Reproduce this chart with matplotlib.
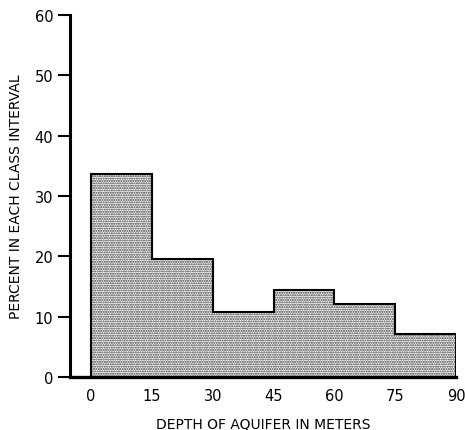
import numpy as np
import matplotlib.pyplot as plt

# Class intervals (depth in meters) and percent in each.
bin_edges = [0, 15, 30, 45, 60, 75, 90]
percents = [33.6, 19.5, 10.8, 14.5, 12.1, 7.2]
x_ticks = [0, 15, 30, 45, 60, 75, 90]
x_tick_labels = ['0', '15', '30', '45', '60', '75', '90']
y_ticks = [0, 10, 20, 30, 40, 50, 60]

plt.rcParams['font.family'] = ['DejaVu Sans']
plt.rcParams['hatch.linewidth'] = 1.0
plt.rcParams['hatch.color'] = '#333333'

fig = plt.figure(figsize=(4.65, 4.31), dpi=100)
ax = fig.add_axes([70 / 465, 1 - 378 / 431, (456 - 70) / 465, (378 - 16) / 431])

# stippled fill, then the step outline (no lines between classes)
ax.stairs(percents, bin_edges, baseline=0, fill=True, facecolor='white',
          edgecolor='#333333', hatch='.......', linewidth=0, zorder=2)
ax.stairs(percents, bin_edges, baseline=0, fill=False, color='black',
          linewidth=1.5, zorder=3)

ax.set_xlim(-5.2, 90)
ax.set_ylim(0, 60)
ax.set_xticks(x_ticks)
ax.set_xticklabels(x_tick_labels)
ax.set_yticks(y_ticks)

for s in ['top', 'right']:
    ax.spines[s].set_visible(False)
ax.spines['left'].set_linewidth(2.2)
ax.spines['bottom'].set_linewidth(2.4)
ax.spines['bottom'].set_zorder(4)
ax.tick_params(axis='y', length=9, width=1.5, labelsize=10.5, pad=3)
ax.tick_params(axis='x', length=0, labelsize=10.5, pad=8)

ax.set_xlabel('DEPTH OF AQUIFER IN METERS', fontsize=10, labelpad=10)
ax.set_ylabel('PERCENT IN EACH CLASS INTERVAL', fontsize=10, labelpad=8)

fig.savefig('out.png', dpi=100)
